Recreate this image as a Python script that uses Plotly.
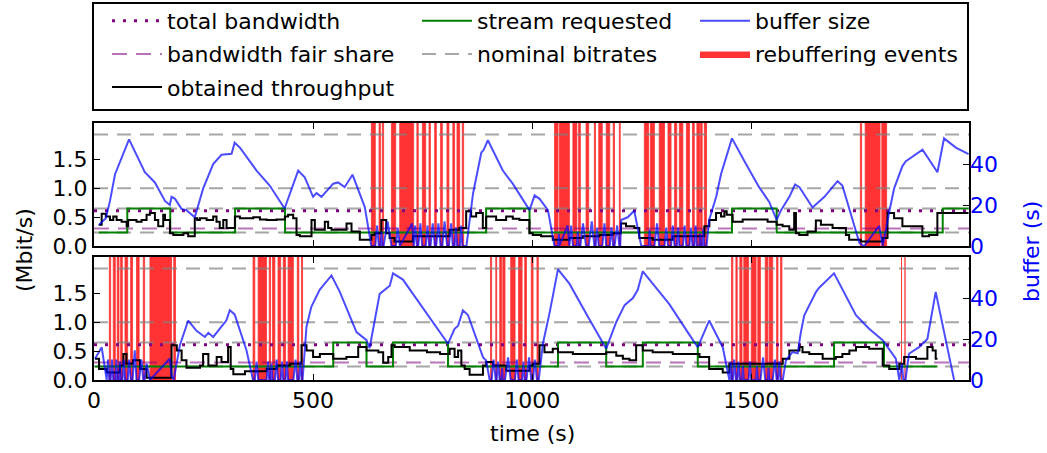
import plotly.graph_objects as go
from plotly.subplots import make_subplots

FONT = "DejaVu Sans"

# ---------------- constants / reference levels ----------------
X_MAX = 1997
Y_MAX = 2.13          # Mbit/s axis limit
B_MAX = 60            # buffer axis limit (s)
NOMINAL_BITRATES = [0.235, 0.65, 1.0, 1.93]
TOTAL_BANDWIDTH = 0.61
FAIR_SHARE = 0.305

# ---------------- top session ----------------
top_tput_t = [11, 17.5, 27, 36.5, 44, 51.6, 63, 74.5, 78, 97, 108.6, 120, 127.7, 139, 146.6, 158, 162,
              173.3, 181, 204, 215, 230, 235.6, 241.7, 257, 272, 279.6, 287, 295, 302.6, 321.6, 333,
              363.5, 378.7, 394, 416.6, 435.6, 443, 454.6, 462.2, 469.8, 496.4, 504, 526.8, 534.4, 542,
              576.3, 587.7, 606.6, 633, 640.6, 655.8, 667, 674.7, 686, 727.8, 811.4, 834.2, 849.4, 860.8,
              872.2, 887.4, 895, 917.8, 940.6, 955.8, 971, 993.8, 1001.4, 1020.4, 1047, 1085, 1115.4,
              1153.4, 1183.8, 1202.8, 1214.2, 1233.2, 1244.6, 1275, 1320.6, 1393, 1404.5, 1419.7, 1431,
              1438.7, 1444, 1457.6, 1480.4, 1537.4, 1558, 1571.6, 1586.8, 1598, 1602, 1609.5, 1628.5,
              1647.5, 1659, 1685.6, 1716, 1723.5, 1750, 1799.5, 1811, 1826, 1845, 1890.6, 1905.8, 1924.8,
              1996]
top_tput_v = [0.37, 0.56, 0.51, 0.45, 0.51, 0.45, 0.42, 0.34, 0.45, 0.42, 0.45, 0.54, 0.57, 0.45, 0.34, 0.54, 0.45,
              0.22, 0.19, 0.22, 0.17, 0.48, 0.45, 0.48, 0.45, 0.51, 0.42, 0.31, 0.45, 0.31, 0.51, 0.48,
              0.50, 0.46, 0.45, 0.46, 0.51, 0.54, 0.48, 0.19, 0.17, 0.45, 0.28, 0.42, 0.31, 0.28,
              0.39, 0.25, 0.11, 0.19, 0.22, 0.45, 0.22, 0.14, 0.08, 0.17, 0.28, 0.31, 0.60, 0.51,
              0.57, 0.31, 0.51, 0.45, 0.51, 0.47, 0.45, 0.22, 0.19, 0.17, 0.11, 0.14, 0.17,
              0.19, 0.22, 0.39, 0.34, 0.31, 0.14, 0.11, 0.17, 0.34, 0.45, 0.57, 0.51,
              0.60, 0.54, 0.42, 0.46, 0.42, 0.37, 0.34, 0.28, 0.57, 0.22, 0.19, 0.25,
              0.44, 0.37, 0.31, 0.19, 0.11, 0.08, 0.14, 0.57, 0.48, 0.34, 0.17, 0.19, 0.57,
              0.57]

top_req_t = [11, 76, 174, 322, 436, 895, 994, 1456, 1558, 1937, 1996]
top_req_v = [0.235, 0.65, 0.235, 0.65, 0.235, 0.65, 0.235, 0.65, 0.235, 0.65, 0.65]

top_buf_t = [11, 27, 36.5, 48, 80, 116, 139, 162, 173, 177, 185, 200, 211, 230, 249, 272, 291, 314, 321, 333,
             371, 401, 435, 466, 481, 500, 508, 519, 546, 557, 572, 590, 618, 633,
             642, 646, 650, 654, 656, 658, 661, 670, 679, 689, 693, 698, 726, 730, 733, 737, 740, 745, 749,
             757, 761, 765, 768, 773, 778, 781, 786, 791, 795, 800, 806, 810, 815, 819, 823, 826, 829, 835,
             838, 841, 844, 850,
             865, 884, 889, 899, 933, 956, 994, 1005.5, 1017, 1036, 1051,
             1059, 1061, 1062, 1081, 1085, 1089, 1093, 1102, 1104, 1106, 1110, 1116, 1123, 1129, 1136, 1142,
             1145, 1148, 1152, 1160, 1165, 1169, 1177, 1181, 1185, 1188, 1194, 1199, 1201,
             1203, 1218, 1233, 1249,
             1256, 1266, 1268, 1270, 1279, 1285, 1290, 1302, 1306, 1310, 1317, 1321, 1325, 1330, 1333, 1336,
             1344, 1348, 1352, 1359, 1362, 1366, 1370, 1373, 1376, 1382, 1383, 1384, 1388, 1390, 1393, 1398,
             1404, 1420, 1431, 1442, 1456, 1488, 1518, 1541, 1558, 1568, 1587, 1600, 1610, 1640, 1667, 1697,
             1708, 1747, 1758, 1792, 1800, 1815, 1826, 1845, 1853, 1891, 1925, 1940, 1967, 1996]
top_buf_v = [10.3, 13.5, 22, 35, 52, 36, 31, 22, 20, 24, 23, 18, 17.5, 14, 28, 40, 44.5, 45, 50.4, 48,
             36.8, 29.5, 18.3, 36.8, 33.5, 24, 25.8, 24, 30.4, 31, 28.7, 34.8, 19, 0,
             0, 10, 0, 0, 7, 0, 0, 12, 0, 0, 9, 0, 11, 0, 10, 0, 0, 11, 0,
             0, 10, 0, 0, 11, 0, 0, 11, 0, 0, 12, 0, 0, 11, 0, 0, 9, 0, 0,
             10, 0, 0, 0,
             25.5, 45.6, 46.8, 51.6, 36.8, 30.3, 17.5, 24.7, 23, 17.5, 0,
             0, 6, 0, 10, 0, 10, 0, 0, 7, 0, 0, 11, 0, 0, 12, 0,
             0, 9, 0, 0, 11, 0, 0, 9, 0, 0, 10, 0, 0,
             12.7, 14, 17.2, 0,
             0, 0, 8, 0, 0, 11, 0, 0, 9, 0, 0, 10, 0, 0, 9, 0,
             0, 10, 0, 0, 9, 0, 0, 10, 0, 0, 6, 0, 0, 8, 0, 0,
             12.7, 24, 35, 43, 52.5, 40, 28.7, 21.5, 12.7, 17.5, 24, 30, 28.7, 18.8, 24, 31.6,
             29.5, 1.4, 0, 9.8, 0, 16.7, 28, 39, 41.4, 47, 36, 52.5, 48, 44.8]

top_rebuf_start = [633, 650.6, 658, 678.7, 697.7, 737, 749.4, 764.6, 777.5, 791, 805.6, 819, 828.5, 840.6,
                   1051, 1062, 1093, 1106, 1123, 1142, 1152, 1169, 1185, 1199,
                   1256, 1270, 1290, 1310, 1325, 1336, 1352, 1366, 1376, 1384, 1393,
                   1749, 1760, 1798]
top_rebuf_end = [642, 653.6, 661, 688.6, 729.6, 740, 757, 767.7, 781.3, 795, 810, 823, 834.5, 843.6,
                 1059, 1085, 1102, 1110, 1129, 1144.6, 1160, 1177, 1188, 1201,
                 1266, 1279, 1302, 1317, 1330, 1344, 1359, 1370, 1382, 1388, 1398,
                 1752, 1794, 1809]

# ---------------- bottom session ----------------
bot_tput_t = [2.3, 11.5, 29, 59, 67, 74, 89, 105, 120, 177, 189, 200, 211, 242, 249, 261, 280, 291, 306, 312,
              318, 344.5, 394, 417, 447, 473.6, 485, 500, 515.5, 546, 576, 603, 622, 649, 660, 671.5, 679,
              686.5, 720.6, 760, 790, 811.8, 823, 831, 838.4, 846, 857.3, 887.7, 895.3, 910.5, 941, 994,
              1001.7, 1016.8, 1028, 1047, 1059, 1093, 1169, 1192, 1207, 1222, 1237.3, 1252.5, 1275, 1321,
              1382, 1404, 1435, 1450, 1572, 1587, 1610, 1617, 1632.5, 1663, 1693, 1708, 1724, 1739, 1769,
              1800, 1815, 1838, 1849, 1876, 1902, 1914, 1921, 1925]
bot_tput_v = [0.37, 0.19, 0.13, 0.25, 0.45, 0.28, 0.34, 0.19, 0.04, 0.60, 0.51, 0.34, 0.21, 0.25, 0.45, 0.25, 0.40, 0.31, 0.57, 0.19,
              0.10, 0.15, 0.19, 0.25, 0.28, 0.60, 0.51, 0.40, 0.45, 0.37, 0.40, 0.57, 0.51, 0.48, 0.30, 0.40, 0.60,
              0.57, 0.51, 0.48, 0.45, 0.54, 0.40, 0.51, 0.25, 0.19, 0.09, 0.25, 0.31, 0.25, 0.16, 0.25,
              0.28, 0.60, 0.48, 0.54, 0.48, 0.45, 0.48, 0.42, 0.37, 0.34, 0.60, 0.51, 0.48, 0.45,
              0.40, 0.19, 0.13, 0.28, 0.37, 0.51, 0.57, 0.48, 0.45, 0.37, 0.40, 0.45, 0.51, 0.57, 0.54,
              0.25, 0.19, 0.28, 0.40, 0.37, 0.57, 0.51, 0.37, 0.37]

bot_req_t = [2.3, 546, 622, 682.5, 808, 1059, 1169, 1252.5, 1378, 1689, 1803, 1925]
bot_req_v = [0.235, 0.65, 0.235, 0.65, 0.235, 0.65, 0.235, 0.65, 0.235, 0.65, 0.235, 0.235]

bot_buf_t = [2.3, 17.5, 29, 32, 35, 38, 41, 44, 48.6, 51, 53, 57, 59, 61, 65, 68, 71, 77, 80, 84, 88, 93, 97,
             103, 108, 112.5, 115.5, 120, 128, 173, 177, 182, 186, 196, 215, 234, 253, 261, 272, 302, 310,
             321, 348, 363, 367, 371, 375, 394, 397, 400, 403, 405, 407.5, 413, 417, 420, 426, 429, 432,
             437, 440, 443, 455, 460, 464, 467.5, 471, 474, 476, 485, 496, 515, 542, 561, 599, 622, 629,
             652, 675, 682.5, 705, 808, 823, 831, 842, 853.5, 888, 895, 903, 907.5, 912, 917, 919, 922, 926,
             930, 931.5, 933, 938, 945, 951, 961, 965, 969, 977, 980, 983, 987, 993, 998, 1002, 1006, 1011,
             1015, 1024.5, 1040, 1059, 1085, 1127, 1169, 1192, 1211, 1230, 1241, 1252.5, 1313, 1359, 1378,
             1404, 1435, 1450, 1453, 1455, 1458, 1461, 1465, 1468, 1471, 1474, 1479, 1481, 1483, 1494, 1497,
             1500, 1511, 1513, 1515, 1521, 1527, 1532, 1538, 1539.5, 1541, 1549, 1554, 1558, 1561, 1564,
             1567, 1570, 1572, 1579, 1594, 1606, 1613, 1621, 1648, 1655, 1689, 1739, 1769, 1800, 1830, 1838,
             1844, 1847, 1852, 1860, 1883, 1902, 1921, 1963]
bot_buf_v = [10.4, 16, 0, 10, 0, 0, 10, 0, 0, 10, 0, 0, 9, 0, 0, 10, 0, 0, 10, 0, 0, 14.5, 0,
             0, 10, 0, 0, 8, 0, 10.5, 2, 0, 5, 17, 29, 24, 21, 23, 21, 29, 34,
             32, 14.5, 0, 0, 9, 0, 0, 9, 0, 0, 8, 0, 0, 10, 0, 0, 9, 0,
             0, 9, 0, 0, 10, 0, 0, 9, 0, 0, 26, 35.7, 44, 51, 43, 23.4, 19.4, 15.6,
             42, 46, 52, 49, 17.7, 25, 26.5, 34, 31.7, 11, 9.5, 0, 0, 10, 0, 0, 9, 0,
             0, 6, 0, 0, 11, 0, 0, 10, 0, 0, 9, 0, 0, 11, 0, 0, 10, 0,
             0, 17.7, 33, 54, 47, 31, 15.3, 28.3, 36.5, 40, 44, 53, 37, 22, 16,
             29, 16, 0, 9, 0, 0, 10, 0, 0, 9, 0, 0, 7, 0, 0, 9,
             0, 0, 7, 0, 0, 11, 0, 0, 6, 0, 0, 10, 0, 0, 9,
             0, 0, 0, 9.5, 13.6, 13, 23, 31.6, 43, 45, 52, 31.6, 25, 19.4, 10.4, 0,
             8, 0, 0, 12.8, 16, 20, 43, 0]

bot_rebuf_start = [35, 44, 53, 60.8, 70.7, 83.6, 97, 112.5, 127.7, 182,
                   363, 374.6, 400, 407.5, 420, 432, 443, 464, 473.6,
                   905, 917, 926, 933, 951, 969, 983, 998, 1011,
                   1455, 1465, 1474, 1483, 1500, 1515, 1532, 1541, 1558, 1567,
                   1843, 1851]
bot_rebuf_end = [38, 48.6, 57, 64.6, 76.8, 88, 103, 115.5, 177, 186,
                 367, 393.6, 403, 412.8, 426, 437, 455, 467.5, 476,
                 907.5, 919, 930, 938, 961, 977, 987, 1002, 1014,
                 1458, 1468, 1479, 1494, 1511, 1521, 1538, 1549, 1561, 1570,
                 1844.5, 1852.5]

# ---------------- styles ----------------
RED = "#ff3333"
BLUE = "rgba(0,0,255,0.7)"
GRAY = "rgba(128,128,128,0.7)"
PURPLE = "purple"
PINK = "rgba(128,0,128,0.55)"
GREEN = "green"


def span_polygons(starts, ends, top):
    xs, ys = [], []
    for s, e in zip(starts, ends):
        xs += [s, s, e, e, s, None]
        ys += [0, top, top, 0, 0, None]
    return xs, ys


def hlines(levels, x_max):
    xs, ys = [], []
    for v in levels:
        xs += [0, x_max, None]
        ys += [v, v, None]
    return xs, ys


fig = make_subplots(rows=2, cols=1, specs=[[{"secondary_y": True}], [{"secondary_y": True}]])

panels = [
    (1, top_tput_t, top_tput_v, top_req_t, top_req_v, top_buf_t, top_buf_v, top_rebuf_start, top_rebuf_end),
    (2, bot_tput_t, bot_tput_v, bot_req_t, bot_req_v, bot_buf_t, bot_buf_v, bot_rebuf_start, bot_rebuf_end),
]

for row, tt, tv, rt, rv, bt, bv, rs, re_ in panels:
    show = row == 1
    rx, ry = span_polygons(rs, re_, Y_MAX)
    fig.add_trace(go.Scatter(x=rx, y=ry, mode="lines", fill="toself", fillcolor=RED,
                             line=dict(color=RED, width=0.8), name="rebuffering events",
                             legend="legend3", legendrank=2, legendgroup="g7", showlegend=show),
                  row=row, col=1, secondary_y=False)
    nx, ny = hlines(NOMINAL_BITRATES, X_MAX)
    fig.add_trace(go.Scatter(x=nx, y=ny, mode="lines", line=dict(color=GRAY, width=2, dash="14px,9px"),
                             name="nominal bitrates", legend="legend2", legendrank=2, legendgroup="g5",
                             showlegend=show),
                  row=row, col=1, secondary_y=False)
    fig.add_trace(go.Scatter(x=[0, X_MAX], y=[TOTAL_BANDWIDTH, TOTAL_BANDWIDTH], mode="lines",
                             line=dict(color=PURPLE, width=3, dash="3px,8px"),
                             name="total bandwidth", legend="legend", legendrank=1, legendgroup="g1",
                             showlegend=show),
                  row=row, col=1, secondary_y=False)
    fig.add_trace(go.Scatter(x=[0, X_MAX], y=[FAIR_SHARE, FAIR_SHARE], mode="lines",
                             line=dict(color=PINK, width=2, dash="15px,9px"),
                             name="bandwidth fair share", legend="legend", legendrank=2, legendgroup="g2",
                             showlegend=show),
                  row=row, col=1, secondary_y=False)
    fig.add_trace(go.Scatter(x=rt, y=rv, mode="lines", line=dict(color=GREEN, width=2, shape="hv"),
                             name="stream requested", legend="legend2", legendrank=1, legendgroup="g4",
                             showlegend=show),
                  row=row, col=1, secondary_y=False)
    fig.add_trace(go.Scatter(x=tt, y=tv, mode="lines", line=dict(color="black", width=2, shape="hv"),
                             name="obtained throughput", legend="legend", legendrank=3, legendgroup="g3",
                             showlegend=show),
                  row=row, col=1, secondary_y=False)
    fig.add_trace(go.Scatter(x=bt, y=bv, mode="lines", line=dict(color=BLUE, width=2),
                             name="buffer size", legend="legend3", legendrank=1, legendgroup="g6",
                             showlegend=show),
                  row=row, col=1, secondary_y=True)

# ---------------- layout ----------------
W, H = 1047, 453
M_L, M_R, M_T, M_B = 94, 78, 123, 73
PLOT_H = H - M_T - M_B
PLOT_W = W - M_L - M_R
TOP_PANEL = (123, 246)     # pixel rows of top panel
BOT_PANEL = (257, 380)


def dom(px_top, px_bot):
    return [(H - M_B - px_bot) / PLOT_H, (H - M_B - px_top) / PLOT_H]


def py(px):
    return (H - M_B - px) / PLOT_H


def pxx(px):
    return (px - M_L) / PLOT_W


axis_font = dict(family=FONT, size=22, color="black")
blue_font = dict(family=FONT, size=22, color="blue")

common_x = dict(range=[0, X_MAX], tickvals=[0, 500, 1000, 1500], ticks="inside", ticklen=6,
                tickwidth=1, tickcolor="black", showline=True, linecolor="black", linewidth=2,
                mirror="ticks", showgrid=False, zeroline=False, tickfont=axis_font)
common_y = dict(range=[0, Y_MAX], tickvals=[0, 0.5, 1.0, 1.5], tickformat=".1f", ticks="inside",
                ticklen=6, tickwidth=1, tickcolor="black", showline=True, linecolor="black",
                linewidth=2, mirror=True, showgrid=False, zeroline=False, tickfont=axis_font)
common_y2 = dict(range=[0, B_MAX], tickvals=[0, 20, 40], ticks="inside", ticklen=6, tickwidth=1,
                 tickcolor="black", showline=False, showgrid=False, zeroline=False, tickfont=blue_font)

fig.update_layout(
    xaxis=dict(common_x, showticklabels=False, domain=[0, 1]),
    xaxis2=dict(common_x, domain=[0, 1]),
    yaxis=dict(common_y, domain=dom(*TOP_PANEL)),
    yaxis2=dict(common_y2, domain=dom(*TOP_PANEL)),
    yaxis3=dict(common_y, domain=dom(*BOT_PANEL)),
    yaxis4=dict(common_y2, domain=dom(*BOT_PANEL)),
)

legend_common = dict(font=dict(family=FONT, size=22, color="black"), bgcolor="rgba(0,0,0,0)",
                     borderwidth=0, xanchor="left", yanchor="top", orientation="v",
                     itemwidth=50, tracegroupgap=1.5)
LEG_TOP = 0
fig.update_layout(
    legend=dict(legend_common, x=pxx(107), y=py(LEG_TOP)),
    legend2=dict(legend_common, x=pxx(417), y=py(LEG_TOP)),
    legend3=dict(legend_common, x=pxx(695), y=py(LEG_TOP)),
)

# legend frame
fig.add_shape(type="rect", xref="paper", yref="paper", x0=pxx(93), x1=pxx(968), y0=py(110), y1=py(3),
              line=dict(color="black", width=2), fillcolor="rgba(0,0,0,0)", layer="above")

fig.add_annotation(text="(Mbit/s)", xref="paper", yref="paper", x=pxx(24), y=py(250), textangle=-90,
                   showarrow=False, font=axis_font, xanchor="center", yanchor="middle")
fig.add_annotation(text="buffer (s)", xref="paper", yref="paper", x=pxx(1031), y=py(252), textangle=-90,
                   showarrow=False, font=blue_font, xanchor="center", yanchor="middle")
fig.add_annotation(text="time (s)", xref="paper", yref="paper", x=pxx(532), y=py(433),
                   showarrow=False, font=axis_font, xanchor="center", yanchor="middle")

fig.update_layout(
    width=W, height=H,
    margin=dict(l=M_L, r=M_R, t=M_T, b=M_B, autoexpand=False),
    paper_bgcolor="white", plot_bgcolor="white",
    font=dict(family=FONT, size=22, color="black"),
)

fig.write_html("out.html",
               config={"displayModeBar": False},
               post_script="document.body.style.margin='0';document.body.style.padding='0';")
